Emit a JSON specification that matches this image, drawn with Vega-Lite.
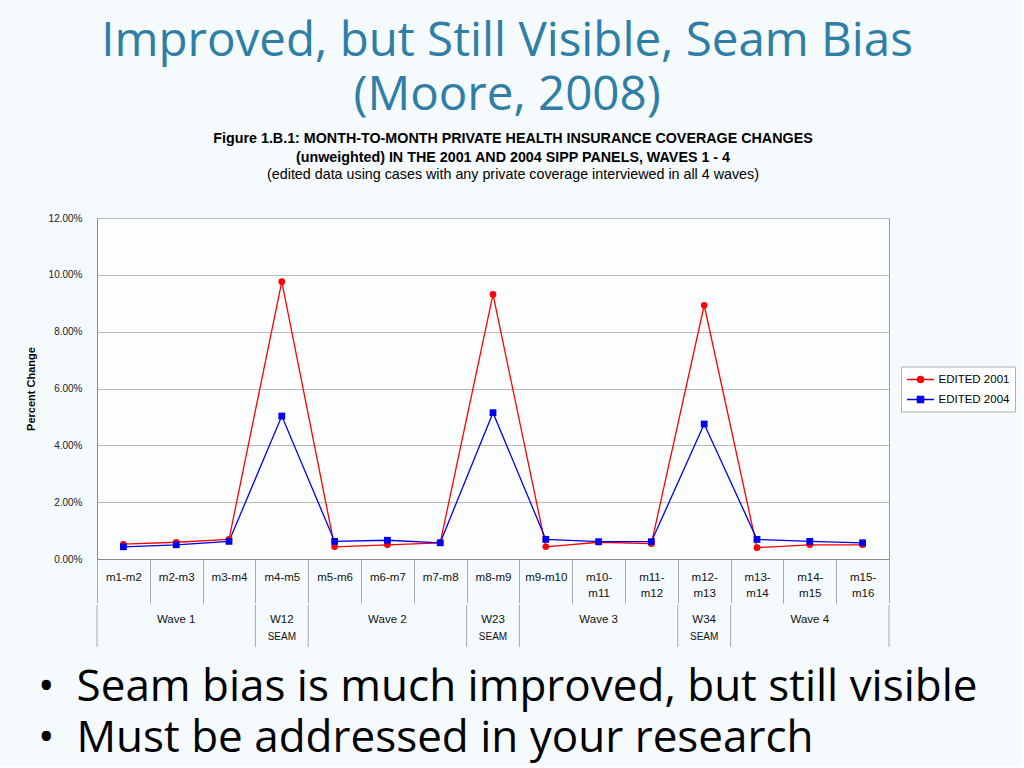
{
  "$schema": "https://vega.github.io/schema/vega-lite/v6.json",
  "background": "#f5fafc",
  "padding": {"left": 24, "top": 17, "right": 5, "bottom": 0},
  "title": {
    "text": ["Improved, but Still Visible, Seam Bias", "(Moore, 2008)"],
    "font": "Open Sans",
    "fontSize": 47.5,
    "fontWeight": "normal",
    "color": "#2e7ea6",
    "lineHeight": 54,
    "anchor": "middle",
    "frame": "bounds",
    "dx": -13,
    "offset": 12
  },
  "datasets": {
    "series": [
      {"cat": "m1-m2", "series": "EDITED 2001", "value": 0.52},
      {"cat": "m2-m3", "series": "EDITED 2001", "value": 0.59},
      {"cat": "m3-m4", "series": "EDITED 2001", "value": 0.69},
      {"cat": "m4-m5", "series": "EDITED 2001", "value": 9.76},
      {"cat": "m5-m6", "series": "EDITED 2001", "value": 0.43},
      {"cat": "m6-m7", "series": "EDITED 2001", "value": 0.50},
      {"cat": "m7-m8", "series": "EDITED 2001", "value": 0.57},
      {"cat": "m8-m9", "series": "EDITED 2001", "value": 9.31},
      {"cat": "m9-m10", "series": "EDITED 2001", "value": 0.43},
      {"cat": "m10-m11", "series": "EDITED 2001", "value": 0.59},
      {"cat": "m11-m12", "series": "EDITED 2001", "value": 0.54},
      {"cat": "m12-m13", "series": "EDITED 2001", "value": 8.93},
      {"cat": "m13-m14", "series": "EDITED 2001", "value": 0.40},
      {"cat": "m14-m15", "series": "EDITED 2001", "value": 0.50},
      {"cat": "m15-m16", "series": "EDITED 2001", "value": 0.50},
      {"cat": "m1-m2", "series": "EDITED 2004", "value": 0.43},
      {"cat": "m2-m3", "series": "EDITED 2004", "value": 0.50},
      {"cat": "m3-m4", "series": "EDITED 2004", "value": 0.62},
      {"cat": "m4-m5", "series": "EDITED 2004", "value": 5.03},
      {"cat": "m5-m6", "series": "EDITED 2004", "value": 0.62},
      {"cat": "m6-m7", "series": "EDITED 2004", "value": 0.66},
      {"cat": "m7-m8", "series": "EDITED 2004", "value": 0.57},
      {"cat": "m8-m9", "series": "EDITED 2004", "value": 5.15},
      {"cat": "m9-m10", "series": "EDITED 2004", "value": 0.69},
      {"cat": "m10-m11", "series": "EDITED 2004", "value": 0.61},
      {"cat": "m11-m12", "series": "EDITED 2004", "value": 0.61},
      {"cat": "m12-m13", "series": "EDITED 2004", "value": 4.75},
      {"cat": "m13-m14", "series": "EDITED 2004", "value": 0.69},
      {"cat": "m14-m15", "series": "EDITED 2004", "value": 0.62},
      {"cat": "m15-m16", "series": "EDITED 2004", "value": 0.57}
    ],
    "waves": [
      {"cat": "m2-m3", "line1": "Wave 1", "line2": ""},
      {"cat": "m4-m5", "line1": "W12", "line2": "SEAM"},
      {"cat": "m6-m7", "line1": "Wave 2", "line2": ""},
      {"cat": "m8-m9", "line1": "W23", "line2": "SEAM"},
      {"cat": "m10-m11", "line1": "Wave 3", "line2": ""},
      {"cat": "m12-m13", "line1": "W34", "line2": "SEAM"},
      {"cat": "m14-m15", "line1": "Wave 4", "line2": ""}
    ],
    "edges": [
      {"edge": "m1-m2"},
      {"edge": "m4-m5"},
      {"edge": "m5-m6"},
      {"edge": "m8-m9"},
      {"edge": "m9-m10"},
      {"edge": "m12-m13"},
      {"edge": "m13-m14"}
    ],
    "lastEdge": [
      {"edge": "m15-m16"}
    ],
    "bullets": [
      {"line": 1, "text": "•\u2002Seam bias is much improved, but still visible"},
      {"line": 2, "text": "•\u2002Must be addressed in your research"}
    ]
  },
  "spacing": 0,
  "vconcat": [
    {
      "width": 792,
      "height": 341,
      "title": {
        "text": ["Figure 1.B.1:  MONTH-TO-MONTH PRIVATE HEALTH INSURANCE COVERAGE CHANGES", "(unweighted) IN THE 2001 AND 2004 SIPP PANELS, WAVES 1 - 4"],
        "subtitle": "(edited data using cases with any private coverage interviewed in all 4 waves)",
        "font": "Liberation Sans",
        "fontSize": 14.3,
        "fontWeight": "bold",
        "color": "#000000",
        "lineHeight": 19.5,
        "subtitleFont": "Liberation Sans",
        "subtitleFontSize": 14.3,
        "subtitleColor": "#000000",
        "subtitlePadding": 2,
        "anchor": "middle",
        "frame": "group",
        "dx": 20,
        "offset": 31
      },
      "view": {"stroke": "#999999", "fill": "#fbfdfe"},
      "data": {"name": "series"},
      "encoding": {
        "x": {
          "field": "cat",
          "type": "nominal",
          "bandPosition": 0.5,
          "scale": {
            "type": "band",
            "paddingInner": 0,
            "paddingOuter": 0,
            "domain": ["m1-m2", "m2-m3", "m3-m4", "m4-m5", "m5-m6", "m6-m7", "m7-m8", "m8-m9", "m9-m10", "m10-m11", "m11-m12", "m12-m13", "m13-m14", "m14-m15", "m15-m16"]
          },
          "axis": {
            "title": null,
            "labelAngle": 0,
            "labelExpr": "length(datum.label) > 6 ? [slice(datum.label, 0, 4), slice(datum.label, 4)] : datum.label",
            "labelFont": "Liberation Sans",
            "labelFontSize": 11.5,
            "labelColor": "#111111",
            "labelLineHeight": 16,
            "labelPadding": -32,
            "labelOverlap": false,
            "labelLimit": 0,
            "tickBand": "extent",
            "tickSize": 44,
            "tickColor": "#aaaaaa",
            "domainColor": "#888888",
            "grid": false
          }
        },
        "y": {
          "field": "value",
          "type": "quantitative",
          "scale": {"domain": [0, 12]},
          "axis": {
            "title": "Percent Change",
            "titleFont": "Liberation Sans",
            "titleFontSize": 11,
            "titleFontWeight": "bold",
            "titleColor": "#000000",
            "titlePadding": 12,
            "values": [0, 2, 4, 6, 8, 10, 12],
            "labelExpr": "format(datum.value, '.2f') + '%'",
            "labelFont": "Liberation Sans",
            "labelFontSize": 10,
            "labelColor": "#222222",
            "labelPadding": 15,
            "ticks": false,
            "domainColor": "#888888",
            "grid": true,
            "gridColor": "#b8b8b8"
          }
        },
        "color": {
          "field": "series",
          "type": "nominal",
          "scale": {"domain": ["EDITED 2001", "EDITED 2004"], "range": ["#ff0000", "#0000ee"]},
          "legend": {
            "orient": "none",
            "legendX": 804,
            "legendY": 148.5,
            "title": null,
            "symbolSize": 196,
            "symbolOffset": 6.5,
            "symbolStrokeWidth": 1.5,
            "strokeColor": "#b0b0b0",
            "fillColor": "#ffffff",
            "padding": 5,
            "labelFont": "Liberation Sans",
            "labelFontSize": 11.5,
            "labelColor": "#000000",
            "labelOffset": 10,
            "rowPadding": 5,
            "encode": {
              "symbols": {
                "update": {
                  "shape": {"signal": "datum.value === 'EDITED 2001' ? 'M-1.93,0H1.93M0.43,0A0.43,0.43 0 1,1 -0.43,0A0.43,0.43 0 1,1 0.43,0Z' : 'M-1.93,0H1.93M-0.43,-0.43H0.43V0.43H-0.43Z'"},
                  "fill": {"signal": "datum.value === 'EDITED 2001' ? '#ff0000' : '#0000ee'"},
                  "stroke": {"signal": "datum.value === 'EDITED 2001' ? '#ff0000' : '#0000ee'"},
                  "strokeWidth": {"value": 1.5},
                  "opacity": {"value": 1}
                }
              }
            }
          }
        }
      },
      "layer": [
        {
          "mark": {"type": "line", "strokeWidth": 1.3}
        },
        {
          "mark": {"type": "point", "filled": true, "opacity": 1},
          "encoding": {
            "shape": {
              "field": "series",
              "type": "nominal",
              "scale": {"range": ["circle", "square"]},
              "legend": null
            },
            "size": {
              "field": "series",
              "type": "nominal",
              "scale": {"range": [44, 46]},
              "legend": null
            }
          }
        }
      ]
    },
    {
      "width": 792,
      "height": 42,
      "view": {"stroke": null, "fill": null},
      "layer": [
        {
          "data": {"name": "edges"},
          "mark": {"type": "rule", "color": "#aaaaaa", "strokeWidth": 1},
          "encoding": {
            "x": {
              "field": "edge",
              "type": "nominal",
              "bandPosition": 0,
              "scale": {
                "type": "band",
                "paddingInner": 0,
                "paddingOuter": 0,
                "domain": ["m1-m2", "m2-m3", "m3-m4", "m4-m5", "m5-m6", "m6-m7", "m7-m8", "m8-m9", "m9-m10", "m10-m11", "m11-m12", "m12-m13", "m13-m14", "m14-m15", "m15-m16"]
              },
              "axis": null
            }
          }
        },
        {
          "data": {"name": "lastEdge"},
          "mark": {"type": "rule", "color": "#aaaaaa", "strokeWidth": 1},
          "encoding": {
            "x": {"field": "edge", "type": "nominal", "bandPosition": 1, "axis": null}
          }
        },
        {
          "data": {"name": "waves"},
          "mark": {"type": "text", "font": "Liberation Sans", "fontSize": 11.5, "color": "#111111", "dy": -6},
          "encoding": {
            "x": {"field": "cat", "type": "nominal", "bandPosition": 0.5, "axis": null},
            "text": {"field": "line1"}
          }
        },
        {
          "data": {"name": "waves"},
          "mark": {"type": "text", "font": "Liberation Sans", "fontSize": 10, "color": "#111111", "dy": 11},
          "encoding": {
            "x": {"field": "cat", "type": "nominal", "bandPosition": 0.5, "axis": null},
            "text": {"field": "line2"}
          }
        }
      ]
    },
    {
      "width": 792,
      "height": 118,
      "view": {"stroke": null, "fill": null},
      "data": {"name": "bullets"},
      "mark": {"type": "text", "align": "left", "baseline": "middle", "font": "Open Sans", "fontSize": 44, "color": "#000000", "dx": -455},
      "encoding": {
        "y": {"field": "line", "type": "ordinal", "axis": null, "scale": {"padding": 0.657, "align": 0.6}},
        "text": {"field": "text"}
      }
    }
  ],
  "config": {
    "font": "Liberation Sans",
    "view": {"stroke": "#999999"}
  }
}
